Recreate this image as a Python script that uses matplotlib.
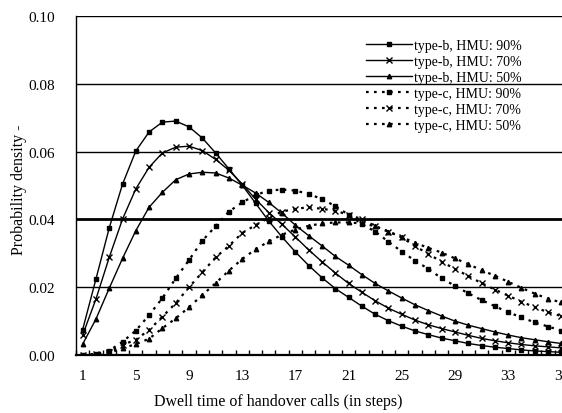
import numpy as np
from matplotlib import pyplot as plt

plt.rcParams['font.family'] = ['Liberation Serif', 'DejaVu Serif']

# dwell time steps
steps = list(range(1, 38))

# type-b curves (solid)
b90 = [0.0075, 0.0224, 0.0375, 0.0504, 0.0602, 0.0658, 0.0687, 0.0690, 0.0673, 0.0640,
       0.0596, 0.0549, 0.0501, 0.0448, 0.0395, 0.0348, 0.0304, 0.0264, 0.0228, 0.0196,
       0.0170, 0.0144, 0.0120, 0.0101, 0.0085, 0.0071, 0.0060, 0.0050, 0.0042, 0.0034,
       0.0028, 0.0023, 0.0019, 0.0015, 0.0012, 0.0010, 0.0008]
b70 = [0.0059, 0.0165, 0.0288, 0.0401, 0.0490, 0.0554, 0.0596, 0.0613, 0.0616, 0.0603,
       0.0577, 0.0545, 0.0504, 0.0460, 0.0420, 0.0385, 0.0348, 0.0310, 0.0275, 0.0242,
       0.0211, 0.0185, 0.0160, 0.0138, 0.0120, 0.0103, 0.0089, 0.0078, 0.0068, 0.0058,
       0.0049, 0.0042, 0.0036, 0.0031, 0.0027, 0.0024, 0.0021]
b50 = [0.0032, 0.0106, 0.0197, 0.0285, 0.0367, 0.0436, 0.0480, 0.0517, 0.0534, 0.0539,
       0.0537, 0.0522, 0.0501, 0.0478, 0.0450, 0.0418, 0.0383, 0.0352, 0.0322, 0.0291,
       0.0265, 0.0237, 0.0211, 0.0189, 0.0168, 0.0148, 0.0131, 0.0115, 0.0100, 0.0088,
       0.0078, 0.0068, 0.0059, 0.0051, 0.0045, 0.0039, 0.0034]

# type-c curves (dotted)
c90 = [0.0000, 0.0003, 0.0013, 0.0039, 0.0072, 0.0118, 0.0168, 0.0226, 0.0280, 0.0337,
       0.0380, 0.0423, 0.0450, 0.0472, 0.0485, 0.0488, 0.0485, 0.0475, 0.0460, 0.0439,
       0.0414, 0.0386, 0.0364, 0.0334, 0.0305, 0.0278, 0.0254, 0.0226, 0.0204, 0.0182,
       0.0162, 0.0144, 0.0126, 0.0111, 0.0096, 0.0084, 0.0072]
c70 = [0.0000, 0.0002, 0.0008, 0.0030, 0.0045, 0.0074, 0.0113, 0.0153, 0.0200, 0.0244,
       0.0288, 0.0322, 0.0360, 0.0383, 0.0405, 0.0423, 0.0431, 0.0436, 0.0431, 0.0426,
       0.0413, 0.0401, 0.0380, 0.0364, 0.0347, 0.0321, 0.0298, 0.0275, 0.0254, 0.0233,
       0.0212, 0.0193, 0.0175, 0.0157, 0.0141, 0.0126, 0.0115]
c50 = [0.0000, 0.0001, 0.0006, 0.0020, 0.0032, 0.0048, 0.0079, 0.0108, 0.0141, 0.0177,
       0.0212, 0.0249, 0.0283, 0.0312, 0.0335, 0.0355, 0.0370, 0.0381, 0.0388, 0.0391,
       0.0391, 0.0388, 0.0380, 0.0364, 0.0348, 0.0331, 0.0316, 0.0302, 0.0285, 0.0268,
       0.0250, 0.0234, 0.0216, 0.0198, 0.0181, 0.0166, 0.0155]

labels = ['type-b, HMU: 90%', 'type-b, HMU: 70%', 'type-b, HMU: 50%',
          'type-c, HMU: 90%', 'type-c, HMU: 70%', 'type-c, HMU: 50%']
yticks = [0.00, 0.02, 0.04, 0.06, 0.08, 0.10]
xtick_labels = [1, 5, 9, 13, 17, 21, 25, 29, 33, 37]

W, H = 562, 414
fig = plt.figure(figsize=(W / 100, H / 100), dpi=100)
ax = fig.add_axes([76 / W, (H - 356) / H, (568 - 76) / W, (356 - 17) / H])

# horizontal grid lines, the 0.04 one is heavier
for v in yticks[1:]:
    ax.axhline(v, color='black', lw=2.0 if v == 0.04 else 1.0, zorder=1)

dotted = (0, (1.2, 2.4))
ax.plot(steps, b90, color='black', lw=1, marker='s', ms=3.2, label=labels[0])
ax.plot(steps, b70, color='black', lw=1, marker='x', ms=5, mew=1, label=labels[1])
ax.plot(steps, b50, color='black', lw=1, marker='^', ms=3.2, label=labels[2])
ax.plot(steps, c90, color='black', lw=1.6, ls=dotted, marker='s', ms=3.2, label=labels[3])
ax.plot(steps, c70, color='black', lw=1.6, ls=dotted, marker='x', ms=5, mew=1, label=labels[4])
ax.plot(steps, c50, color='black', lw=1.6, ls=dotted, marker='^', ms=3.2, label=labels[5])

ax.set_xlim(0.5, 37.5)
ax.set_ylim(0, 0.10)
ax.set_yticks(yticks)
ax.set_yticklabels(['%.2f' % v for v in yticks])
ax.set_xticks(xtick_labels)
ax.set_xticks(np.arange(0.5, 38, 1), minor=True)
ax.tick_params(axis='both', which='major', length=0, labelsize=11)
ax.tick_params(axis='y', which='major', pad=15)
ax.tick_params(axis='x', which='major', pad=10)
ax.tick_params(axis='x', which='minor', direction='in', length=3.5, width=1)

for s in ['top', 'right']:
    ax.spines[s].set_visible(False)
ax.spines['left'].set_linewidth(1.0)
ax.spines['bottom'].set_linewidth(1.6)

fig.text(278 / W, 1 - 402 / H, 'Dwell time of handover calls (in steps)',
         ha='center', va='center', fontsize=11.5)
fig.text(19 / W, 1 - 190 / H, 'Probability density -', rotation=90,
         ha='center', va='center', fontsize=11.5)

leg = ax.legend(loc='upper left', bbox_to_anchor=(366 / W, 1 - 40 / H),
                bbox_transform=fig.transFigure, frameon=False, fontsize=10,
                handlelength=3.3, handletextpad=0.15, labelspacing=0.21,
                borderpad=0, borderaxespad=0)

fig.savefig('out.png', dpi=100)
